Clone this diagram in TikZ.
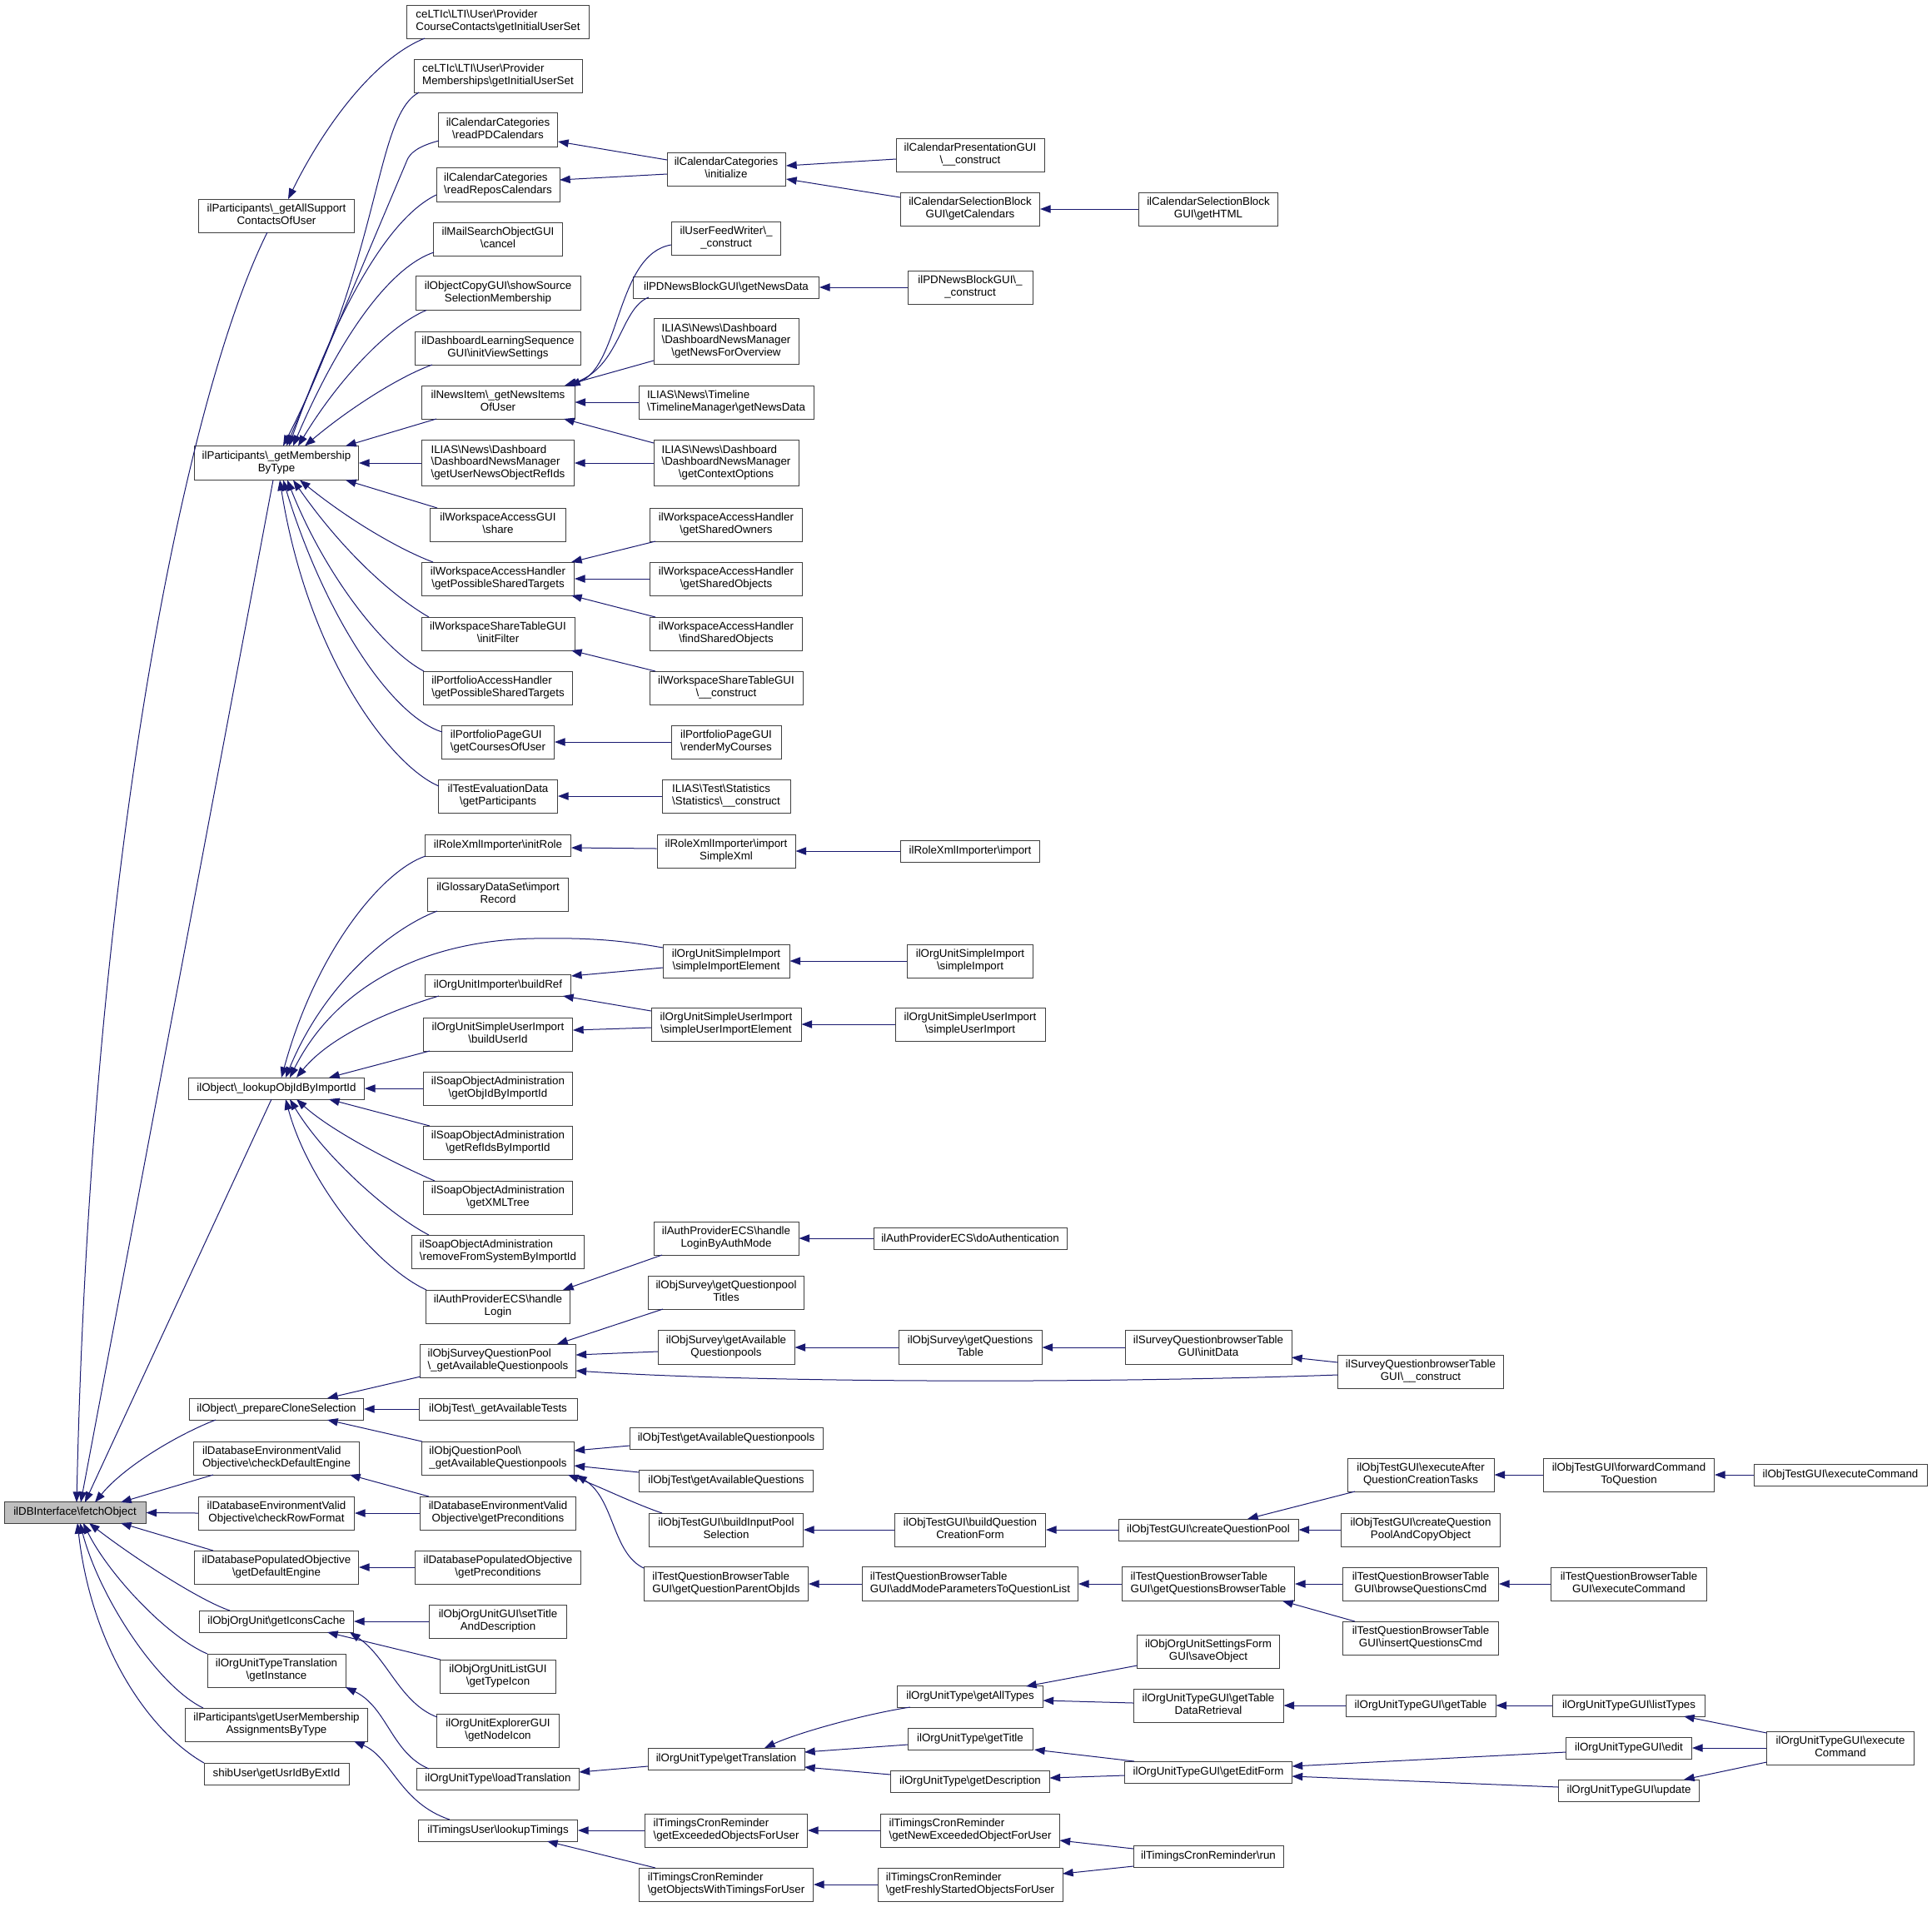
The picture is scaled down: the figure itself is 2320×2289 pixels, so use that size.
\documentclass[tikz,border=0pt]{standalone}
\usepackage{fontspec}
\setmainfont{Liberation Sans}
\usetikzlibrary{arrows.meta,calc}
\definecolor{navy}{RGB}{25,25,112}
\definecolor{focusgray}{RGB}{191,191,191}
\newcommand\bs{\textbackslash}
\newcommand\twol[2]{\begin{tabular}{@{}l@{}}#1\\\multicolumn{1}{@{}c@{}}{#2}\end{tabular}}
\newcommand\threel[3]{\begin{tabular}{@{}l@{}}#1\\#2\\\multicolumn{1}{@{}c@{}}{#3}\end{tabular}}
\newcommand\nodefont{\fontsize{10pt}{10.9pt}\selectfont}
\begin{document}
\begin{tikzpicture}[x=0.75pt,y=-0.75pt,
  box/.style={draw=black!75, line width=0.75pt, fill=white, inner sep=0pt, font=\nodefont},
  nd/.style 2 args={box, minimum width=#1*0.75pt, minimum height=#2*0.75pt},
  edge/.style={draw=navy, line width=0.75pt, -{Triangle[length=9.5pt,width=7pt]}}]
\fill[white] (0,0) rectangle (2320,2289);

% ---------- column 1
\node[nd={170}{26}, fill=focusgray] (F) at (90,1816.5) {ilDBInterface\bs fetchObject};

% ---------- column 2
\node[nd={187}{40}] (PA) at (332,259) {\twol{ilParticipants\bs\_getAllSupport}{ContactsOfUser}};
\node[nd={197}{41}] (PM) at (332,556) {\twol{ilParticipants\bs\_getMembership}{ByType}};
\node[nd={211}{26}] (LO) at (332,1307) {ilObject\bs\_lookupObjIdByImportId};
\node[nd={209}{26}] (PC) at (332,1692) {ilObject\bs\_prepareCloneSelection};
\node[nd={199}{40}] (CDE) at (332,1751) {\twol{ilDatabaseEnvironmentValid}{Objective\bs checkDefaultEngine}};
\node[nd={187}{40}] (CRF) at (332,1817) {\twol{ilDatabaseEnvironmentValid}{Objective\bs checkRowFormat}};
\node[nd={197}{40}] (PDE) at (332,1882) {\twol{ilDatabasePopulatedObjective}{\bs getDefaultEngine}};
\node[nd={185}{26}] (IC) at (332,1947) {ilObjOrgUnit\bs getIconsCache};
\node[nd={166}{40}] (GI) at (332,2006) {\twol{ilOrgUnitTypeTranslation}{\bs getInstance}};
\node[nd={219}{40}] (UMA) at (332,2071) {\twol{ilParticipants\bs getUserMembership}{AssignmentsByType}};
\node[nd={174}{26}] (SH) at (332,2130) {shibUser\bs getUsrIdByExtId};

% ---------- column 3
\node[nd={219}{40}] (CC) at (598,26) {\twol{ceLTIc\bs LTI\bs User\bs Provider}{CourseContacts\bs getInitialUserSet}};
\node[nd={202}{40}] (MB) at (598,91) {\twol{ceLTIc\bs LTI\bs User\bs Provider}{Memberships\bs getInitialUserSet}};
\node[nd={143}{41}] (RPD) at (598,156) {\twol{ilCalendarCategories}{\bs readPDCalendars}};
\node[nd={148}{41}] (RRC) at (598,222) {\twol{ilCalendarCategories}{\bs readReposCalendars}};
\node[nd={155}{40}] (MS) at (598,287) {\twol{ilMailSearchObjectGUI}{\bs cancel}};
\node[nd={198}{41}] (OCG) at (598,352) {\twol{ilObjectCopyGUI\bs showSource}{SelectionMembership}};
\node[nd={199}{40}] (DLS) at (598,418) {\twol{ilDashboardLearningSequence}{GUI\bs initViewSettings}};
\node[nd={184}{40}] (NI) at (598,483) {\twol{ilNewsItem\bs\_getNewsItems}{OfUser}};
\node[nd={183}{55}] (UNR) at (598,556) {\threel{ILIAS\bs News\bs Dashboard}{\bs DashboardNewsManager}{\bs getUserNewsObjectRefIds}};
\node[nd={163}{40}] (WAS) at (598,630) {\twol{ilWorkspaceAccessGUI}{\bs share}};
\node[nd={183}{40}] (PST) at (598,695) {\twol{ilWorkspaceAccessHandler}{\bs getPossibleSharedTargets}};
\node[nd={184}{40}] (IF) at (598,761) {\twol{ilWorkspaceShareTableGUI}{\bs initFilter}};
\node[nd={179}{40}] (PAH) at (598,826) {\twol{ilPortfolioAccessHandler}{\bs getPossibleSharedTargets}};
\node[nd={135}{40}] (GCU) at (598,891) {\twol{ilPortfolioPageGUI}{\bs getCoursesOfUser}};
\node[nd={143}{40}] (GP) at (598,956) {\twol{ilTestEvaluationData}{\bs getParticipants}};
\node[nd={175}{26}] (IR) at (598,1015) {ilRoleXmlImporter\bs initRole};
\node[nd={169}{40}] (GDS) at (598,1074) {\twol{ilGlossaryDataSet\bs import}{Record}};
\node[nd={175}{26}] (BR) at (598,1183) {ilOrgUnitImporter\bs buildRef};
\node[nd={179}{40}] (BUI) at (598,1242) {\twol{ilOrgUnitSimpleUserImport}{\bs buildUserId}};
\node[nd={179}{40}] (SO1) at (598,1307) {\twol{ilSoapObjectAdministration}{\bs getObjIdByImportId}};
\node[nd={179}{40}] (SO2) at (598,1372) {\twol{ilSoapObjectAdministration}{\bs getRefIdsByImportId}};
\node[nd={179}{40}] (SO3) at (598,1438) {\twol{ilSoapObjectAdministration}{\bs getXMLTree}};
\node[nd={207}{40}] (SO4) at (598,1503) {\twol{ilSoapObjectAdministration}{\bs removeFromSystemByImportId}};
\node[nd={173}{40}] (HL) at (598,1569) {\twol{ilAuthProviderECS\bs handle}{Login}};
\node[nd={187}{40}] (SQP) at (598,1634) {\twol{ilObjSurveyQuestionPool}{\bs\_getAvailableQuestionpools}};
\node[nd={190}{26}] (GAT) at (598,1692) {ilObjTest\bs\_getAvailableTests};
\node[nd={183}{40}] (QP) at (598,1751) {\twol{ilObjQuestionPool\bs}{\_getAvailableQuestionpools}};
\node[nd={187}{40}] (DEP) at (598,1817) {\twol{ilDatabaseEnvironmentValid}{Objective\bs getPreconditions}};
\node[nd={199}{40}] (DPP) at (598,1882) {\twol{ilDatabasePopulatedObjective}{\bs getPreconditions}};
\node[nd={165}{40}] (STD) at (598,1947) {\twol{ilObjOrgUnitGUI\bs setTitle}{AndDescription}};
\node[nd={139}{40}] (GTI) at (598,2013) {\twol{ilObjOrgUnitListGUI}{\bs getTypeIcon}};
\node[nd={147}{40}] (GNI) at (598,2078) {\twol{ilOrgUnitExplorerGUI}{\bs getNodeIcon}};
\node[nd={195}{26}] (LT) at (598,2136) {ilOrgUnitType\bs loadTranslation};
\node[nd={191}{26}] (LUT) at (598,2198) {ilTimingsUser\bs lookupTimings};

% ---------- column 4
\node[nd={142}{40}] (INI) at (872,203) {\twol{ilCalendarCategories}{\bs initialize}};
\node[nd={131}{40}] (UFW) at (872,286) {\twol{ilUserFeedWriter\bs\_}{\_construct}};
\node[nd={223}{26}] (PNB) at (872,345) {ilPDNewsBlockGUI\bs getNewsData};
\node[nd={174}{55}] (NFO) at (872,410) {\threel{ILIAS\bs News\bs Dashboard}{\bs DashboardNewsManager}{\bs getNewsForOverview}};
\node[nd={210}{40}] (TLM) at (872,483) {\twol{ILIAS\bs News\bs Timeline}{\bs TimelineManager\bs getNewsData}};
\node[nd={174}{55}] (GCO) at (872,556) {\threel{ILIAS\bs News\bs Dashboard}{\bs DashboardNewsManager}{\bs getContextOptions}};
\node[nd={183}{40}] (GSO) at (872,630) {\twol{ilWorkspaceAccessHandler}{\bs getSharedOwners}};
\node[nd={183}{40}] (GSB) at (872,695) {\twol{ilWorkspaceAccessHandler}{\bs getSharedObjects}};
\node[nd={183}{40}] (FSO) at (872,761) {\twol{ilWorkspaceAccessHandler}{\bs findSharedObjects}};
\node[nd={184}{40}] (WSC) at (872,826) {\twol{ilWorkspaceShareTableGUI}{\bs\_\_construct}};
\node[nd={132}{40}] (RMC) at (872,891) {\twol{ilPortfolioPageGUI}{\bs renderMyCourses}};
\node[nd={154}{40}] (STA) at (872,956) {\twol{ILIAS\bs Test\bs Statistics}{\bs Statistics\bs\_\_construct}};
\node[nd={166}{40}] (ISX) at (872,1022) {\twol{ilRoleXmlImporter\bs import}{SimpleXml}};
\node[nd={152}{40}] (SIE) at (872,1154) {\twol{ilOrgUnitSimpleImport}{\bs simpleImportElement}};
\node[nd={180}{40}] (SUIE) at (872,1230) {\twol{ilOrgUnitSimpleUserImport}{\bs simpleUserImportElement}};
\node[nd={174}{40}] (HLA) at (872,1487) {\twol{ilAuthProviderECS\bs handle}{LoginByAuthMode}};
\node[nd={187}{40}] (QPT) at (872,1552) {\twol{ilObjSurvey\bs getQuestionpool}{Titles}};
\node[nd={164}{41}] (SAQ) at (872,1618) {\twol{ilObjSurvey\bs getAvailable}{Questionpools}};
\node[nd={232}{26}] (TAQP) at (872,1727) {ilObjTest\bs getAvailableQuestionpools};
\node[nd={209}{26}] (TAQ) at (872,1778) {ilObjTest\bs getAvailableQuestions};
\node[nd={185}{40}] (BIPS) at (872,1837) {\twol{ilObjTestGUI\bs buildInputPool}{Selection}};
\node[nd={197}{41}] (QPO) at (872,1902) {\twol{ilTestQuestionBrowserTable}{GUI\bs getQuestionParentObjIds}};
\node[nd={188}{26}] (GTR) at (872,2112) {ilOrgUnitType\bs getTranslation};
\node[nd={195}{40}] (GEO) at (872,2198) {\twol{ilTimingsCronReminder}{\bs getExceededObjectsForUser}};
\node[nd={209}{40}] (OWT) at (872,2263) {\twol{ilTimingsCronReminder}{\bs getObjectsWithTimingsForUser}};

% ---------- column 5
\node[nd={178}{40}] (CPG) at (1165,186) {\twol{ilCalendarPresentationGUI}{\bs\_\_construct}};
\node[nd={167}{40}] (GCAL) at (1165,251) {\twol{ilCalendarSelectionBlock}{GUI\bs getCalendars}};
\node[nd={150}{40}] (PNC) at (1165,345) {\twol{ilPDNewsBlockGUI\bs\_}{\_construct}};
\node[nd={167}{26}] (RXI) at (1165,1022) {ilRoleXmlImporter\bs import};
\node[nd={151}{40}] (SI) at (1165,1154) {\twol{ilOrgUnitSimpleImport}{\bs simpleImport}};
\node[nd={180}{40}] (SUI) at (1165,1230) {\twol{ilOrgUnitSimpleUserImport}{\bs simpleUserImport}};
\node[nd={232}{26}] (DA) at (1165,1487) {ilAuthProviderECS\bs doAuthentication};
\node[nd={172}{41}] (GQT) at (1165,1618) {\twol{ilObjSurvey\bs getQuestions}{Table}};
\node[nd={181}{40}] (BQCF) at (1165,1837) {\twol{ilObjTestGUI\bs buildQuestion}{CreationForm}};
\node[nd={259}{41}] (AMP) at (1165,1902) {\twol{ilTestQuestionBrowserTable}{GUI\bs addModeParametersToQuestionList}};
\node[nd={175}{26}] (GAll) at (1165,2037) {ilOrgUnitType\bs getAllTypes};
\node[nd={150}{26}] (GTit) at (1165,2088) {ilOrgUnitType\bs getTitle};
\node[nd={191}{26}] (GDesc) at (1165,2139) {ilOrgUnitType\bs getDescription};
\node[nd={215}{40}] (GNE) at (1165,2198) {\twol{ilTimingsCronReminder}{\bs getNewExceededObjectForUser}};
\node[nd={222}{40}] (GFS) at (1165,2263) {\twol{ilTimingsCronReminder}{\bs getFreshlyStartedObjectsForUser}};

% ---------- column 6
\node[nd={167}{40}] (GHTML) at (1451,251) {\twol{ilCalendarSelectionBlock}{GUI\bs getHTML}};
\node[nd={200}{41}] (ID) at (1451,1618) {\twol{ilSurveyQuestionbrowserTable}{GUI\bs initData}};
\node[nd={216}{26}] (CQP) at (1451,1837) {ilObjTestGUI\bs createQuestionPool};
\node[nd={207}{41}] (GQBT) at (1451,1902) {\twol{ilTestQuestionBrowserTable}{GUI\bs getQuestionsBrowserTable}};
\node[nd={171}{40}] (SOB) at (1451,1983) {\twol{ilObjOrgUnitSettingsForm}{GUI\bs saveObject}};
\node[nd={180}{40}] (TDR) at (1451,2048) {\twol{ilOrgUnitTypeGUI\bs getTable}{DataRetrieval}};
\node[nd={201}{26}] (GEF) at (1451,2128) {ilOrgUnitTypeGUI\bs getEditForm};
\node[nd={180}{26}] (RUN) at (1451,2229) {ilTimingsCronReminder\bs run};

% ---------- column 7
\node[nd={199}{40}] (SQC) at (1706,1647) {\twol{ilSurveyQuestionbrowserTable}{GUI\bs\_\_construct}};
\node[nd={176}{40}] (EAQ) at (1706,1771) {\twol{ilObjTestGUI\bs executeAfter}{QuestionCreationTasks}};
\node[nd={191}{40}] (CQPC) at (1706,1837) {\twol{ilObjTestGUI\bs createQuestion}{PoolAndCopyObject}};
\node[nd={187}{40}] (BQC) at (1706,1902) {\twol{ilTestQuestionBrowserTable}{GUI\bs browseQuestionsCmd}};
\node[nd={187}{40}] (IQC) at (1706,1967) {\twol{ilTestQuestionBrowserTable}{GUI\bs insertQuestionsCmd}};
\node[nd={180}{26}] (GT) at (1706,2048) {ilOrgUnitTypeGUI\bs getTable};

% ---------- column 8
\node[nd={205}{40}] (FCQ) at (1956,1771) {\twol{ilObjTestGUI\bs forwardCommand}{ToQuestion}};
\node[nd={187}{40}] (TEC) at (1956,1902) {\twol{ilTestQuestionBrowserTable}{GUI\bs executeCommand}};
\node[nd={183}{26}] (LTY) at (1956,2048) {ilOrgUnitTypeGUI\bs listTypes};
\node[nd={151}{26}] (ED) at (1956,2099) {ilOrgUnitTypeGUI\bs edit};
\node[nd={169}{26}] (UP) at (1956,2150) {ilOrgUnitTypeGUI\bs update};

% ---------- column 9
\node[nd={208}{26}] (OTEC) at (2210,1771) {ilObjTestGUI\bs executeCommand};
\node[nd={177}{40}] (OUEC) at (2210,2099) {\twol{ilOrgUnitTypeGUI\bs execute}{Command}};

% ================= edges into fetchObject
\draw[edge] ($(PA)+(-11,20)$) .. controls (230,460) and (110,1000) .. ($(F)+(2,-12.5)$);
\draw[edge] ($(PM)+(-4,20.5)$) -- ($(F)+(7,-12.5)$);
\draw[edge] ($(LO)+(-6,13)$) -- ($(F)+(12,-12.5)$);
\draw[edge] ($(PC)+(-73,13)$) .. controls (215,1722) and (150,1760) .. ($(F)+(24,-12.5)$);
\draw[edge] ($(CDE)+(-76,20)$) -- ($(F)+(55,-12.5)$);
\draw[edge] (CRF.west) -- (F.east);
\draw[edge] ($(PDE)+(-76,-20)$) -- ($(F)+(55,12.5)$);
\draw[edge] ($(IC)+(-56,-13)$) .. controls (240,1922) and (160,1870) .. ($(F)+(17,12.5)$);
\draw[edge] ($(GI)+(-83,-20)$) .. controls (200,1965) and (130,1890) .. ($(F)+(10,12.5)$);
\draw[edge] ($(UMA)+(-88,-20)$) .. controls (190,2025) and (120,1920) .. ($(F)+(6,12.5)$);
\draw[edge] ($(SH)+(-87,-13)$) .. controls (180,2080) and (110,1980) .. ($(F)+(3,12.5)$);

% ================= PA
\draw[edge] ($(CC)+(-88,20)$) .. controls (450,70) and (390,150) .. ($(PA)+(14,-20)$);

% ================= PM
\draw[edge] ($(MB)+(-95,20)$) .. controls (450,140) and (460,300) .. ($(PM)+(8,-20.5)$);
\draw[edge] ($(RPD)+(-71,13)$) .. controls (500,176) and (492,185) .. (489,192) -- ($(PM)+(12,-20.5)$);
\draw[edge] ($(RRC)+(-74,12)$) .. controls (480,255) and (420,330) .. ($(PM)+(15,-20.5)$);
\draw[edge] ($(MS)+(-77,16)$) .. controls (470,320) and (410,400) .. ($(PM)+(20,-20.5)$);
\draw[edge] ($(OCG)+(-86,20.5)$) .. controls (470,390) and (410,450) .. ($(PM)+(26,-20.5)$);
\draw[edge] ($(DLS)+(-79,20)$) .. controls (480,452) and (420,490) .. ($(PM)+(34,-20.5)$);
\draw[edge] ($(NI)+(-74,20)$) -- ($(PM)+(83,-20.5)$);
\draw[edge] (UNR.west) -- (PM.east);
\draw[edge] ($(WAS)+(-73,-20)$) -- ($(PM)+(83,20.5)$);
\draw[edge] ($(PST)+(-78,-20)$) .. controls (480,660) and (420,625) .. ($(PM)+(28,20.5)$);
\draw[edge] ($(IF)+(-83,-20)$) .. controls (470,715) and (410,660) .. ($(PM)+(20,20.5)$);
\draw[edge] ($(PAH)+(-89,-20)$) .. controls (460,780) and (390,690) .. ($(PM)+(13,20.5)$);
\draw[edge] ($(GCU)+(-67,-12)$) .. controls (470,860) and (390,740) .. ($(PM)+(8,20.5)$);
\draw[edge] ($(GP)+(-71,-12)$) .. controls (470,920) and (370,790) .. ($(PM)+(4,20.5)$);

% ================= calendar
\draw[edge] ($(INI)+(-71,-11)$) -- ($(RPD)+(72,14)$);
\draw[edge] ($(INI)+(-71,6)$) -- ($(RRC)+(74,-6)$);
\draw[edge] ($(CPG)+(-89,5)$) -- ($(INI)+(72,-4)$);
\draw[edge] ($(GCAL)+(-84,-14)$) -- ($(INI)+(72,12)$);
\draw[edge] (GHTML.west) -- (GCAL.east);

% ================= news
\draw[edge] ($(UFW)+(-66,8)$) .. controls (740,305) and (745,440) .. ($(NI)+(86,-20)$);
\draw[edge] ($(PNB)+(-93,12)$) .. controls (745,370) and (745,440) .. ($(NI)+(82,-20)$);
\draw[edge] ($(NFO)+(-87,23)$) -- ($(NI)+(80,-20)$);
\draw[edge] (TLM.west) -- (NI.east);
\draw[edge] ($(GCO)+(-87,-24)$) -- ($(NI)+(79,20)$);
\draw[edge] (GCO.west) -- (UNR.east);
\draw[edge] (PNC.west) -- (PNB.east);

% ================= workspace / portfolio / test
\draw[edge] ($(GSO)+(-85,20)$) -- ($(PST)+(88,-20)$);
\draw[edge] (GSB.west) -- (PST.east);
\draw[edge] ($(FSO)+(-85,-20)$) -- ($(PST)+(88,20)$);
\draw[edge] ($(WSC)+(-85,-20)$) -- ($(IF)+(88,20)$);
\draw[edge] (RMC.west) -- (GCU.east);
\draw[edge] (STA.west) -- (GP.east);

% ================= LO
\draw[edge] ($(IR)+(-87,13)$) .. controls (460,1045) and (380,1140) .. ($(LO)+(6,-13)$);
\draw[edge] ($(GDS)+(-73,20)$) .. controls (470,1115) and (390,1180) .. ($(LO)+(11,-13)$);
\draw[edge] ($(SIE)+(-76,-16)$) .. controls (740,1128) and (700,1126) .. (640,1127) .. controls (500,1130) and (400,1190) .. ($(LO)+(16,-13)$);
\draw[edge] ($(BR)+(-71,13)$) .. controls (480,1210) and (400,1240) .. ($(LO)+(24,-13)$);
\draw[edge] ($(BUI)+(-82,20)$) -- ($(LO)+(63,-13)$);
\draw[edge] (SO1.west) -- (LO.east);
\draw[edge] ($(SO2)+(-82,-20)$) -- ($(LO)+(63,13)$);
\draw[edge] ($(SO3)+(-76,-20)$) .. controls (480,1400) and (400,1360) .. ($(LO)+(24,13)$);
\draw[edge] ($(SO4)+(-83,-20)$) .. controls (470,1460) and (390,1390) .. ($(LO)+(16,13)$);
\draw[edge] ($(HL)+(-86,-20)$) .. controls (450,1520) and (370,1420) .. ($(LO)+(11,13)$);

\draw[edge] ($(ISX.west)+(0,-3)$) -- ($(IR.east)+(0,3)$);
\draw[edge] (RXI.west) -- (ISX.east);
\draw[edge] ($(SIE)+(-76,8)$) -- ($(BR)+(88,-11)$);
\draw[edge] ($(SUIE)+(-90,-16)$) -- ($(BR)+(78,13)$);
\draw[edge] ($(SUIE)+(-90,4)$) -- ($(BUI)+(90,-5)$);
\draw[edge] (SI.west) -- (SIE.east);
\draw[edge] (SUI.west) -- (SUIE.east);
\draw[edge] ($(HLA)+(-77,20)$) -- ($(HL)+(78,-20)$);
\draw[edge] (DA.west) -- (HLA.east);

% ================= PC / survey / question pool
\draw[edge] ($(SQP)+(-93,19)$) -- ($(PC)+(61,-13)$);
\draw[edge] (GAT.west) -- (PC.east);
\draw[edge] ($(QP)+(-91,-20)$) -- ($(PC)+(61,13)$);
\draw[edge] ($(QPT)+(-76,20)$) -- ($(SQP)+(71,-20)$);
\draw[edge] ($(SAQ)+(-82,5)$) -- ($(SQP)+(93.5,-7)$);
\draw[edge] ($(SQC)+(-99.5,4)$) .. controls (1300,1662) and (900,1660) .. ($(SQP)+(93.5,12)$);
\draw[edge] ($(SQC)+(-99.5,-11)$) -- ($(ID)+(100,12)$);
\draw[edge] (GQT.west) -- (SAQ.east);
\draw[edge] (ID.west) -- (GQT.east);

\draw[edge] ($(TAQP)+(-116,9)$) -- ($(QP)+(91.5,-9)$);
\draw[edge] ($(TAQ)+(-104.5,-10)$) -- ($(QP)+(91.5,9)$);
\draw[edge] ($(BIPS)+(-77,-20)$) .. controls (760,1805) and (720,1785) .. ($(QP)+(84,20)$);
\draw[edge] ($(QPO)+(-99,-19)$) .. controls (735,1865) and (738,1800) .. ($(QP)+(94,20)$);

\draw[edge] (BQCF.west) -- (BIPS.east);
\draw[edge] (CQP.west) -- (BQCF.east);
\draw[edge] (CQPC.west) -- (CQP.east);
\draw[edge] ($(EAQ)+(-79,20)$) -- ($(CQP)+(47,-13)$);
\draw[edge] (FCQ.west) -- (EAQ.east);
\draw[edge] (OTEC.west) -- (FCQ.east);

\draw[edge] (AMP.west) -- (QPO.east);
\draw[edge] (GQBT.west) -- (AMP.east);
\draw[edge] (BQC.west) -- (GQBT.east);
\draw[edge] ($(IQC)+(-79,-20)$) -- ($(GQBT)+(89,20.5)$);
\draw[edge] (TEC.west) -- (BQC.east);

% ================= database objectives
\draw[edge] ($(DEP)+(-83,-20)$) -- ($(CDE)+(88,20)$);
\draw[edge] (DEP.west) -- (CRF.east);
\draw[edge] (DPP.west) -- (PDE.east);

% ================= org unit
\draw[edge] (STD.west) -- (IC.east);
\draw[edge] ($(GTI)+(-69,-20)$) -- ($(IC)+(61,13)$);
\draw[edge] ($(GNI)+(-73,-16)$) .. controls (480,2045) and (465,1990) .. ($(IC)+(88,13)$);
\draw[edge] ($(LT)+(-83,-12)$) .. controls (470,2105) and (465,2050) .. ($(GI)+(83,20)$);
\draw[edge] ($(GTR)+(-94,9)$) -- ($(LT)+(97.5,-8)$);
\draw[edge] ($(GAll)+(-72,13)$) .. controls (1040,2058) and (960,2080) .. ($(GTR)+(46,-13)$);
\draw[edge] ($(GTit)+(-75,7)$) -- ($(GTR)+(94,-8)$);
\draw[edge] ($(GDesc)+(-95.5,-8)$) -- ($(GTR)+(94,10)$);
\draw[edge] ($(SOB)+(-85.5,17)$) -- ($(GAll)+(67,-12)$);
\draw[edge] ($(TDR)+(-90,-3)$) -- ($(GAll)+(87.5,5)$);
\draw[edge] (GT.west) -- (TDR.east);
\draw[edge] (LTY.west) -- (GT.east);
\draw[edge] ($(OUEC)+(-88.5,-18)$) -- ($(LTY)+(66,13)$);
\draw[edge] (OUEC.west) -- (ED.east);
\draw[edge] ($(OUEC)+(-88.5,17)$) -- ($(UP)+(66,-13)$);
\draw[edge] ($(ED)+(-75.5,5)$) -- ($(GEF)+(100.5,-7)$);
\draw[edge] ($(UP)+(-84.5,-4)$) -- ($(GEF)+(100.5,5)$);
\draw[edge] ($(GEF)+(-89,-13)$) -- ($(GTit)+(77,13)$);
\draw[edge] ($(GEF)+(-100.5,4)$) -- ($(GDesc)+(95.5,-4)$);

% ================= timings
\draw[edge] ($(LUT)+(-58,-13)$) .. controls (480,2165) and (470,2110) .. ($(UMA)+(93,20)$);
\draw[edge] (GEO.west) -- (LUT.east);
\draw[edge] ($(OWT)+(-85,-20)$) -- ($(LUT)+(59,13)$);
\draw[edge] (GNE.west) -- (GEO.east);
\draw[edge] (GFS.west) -- (OWT.east);
\draw[edge] ($(RUN)+(-90,-9)$) -- ($(GNE)+(107.5,12)$);
\draw[edge] ($(RUN)+(-90,12)$) -- ($(GFS)+(111,-13)$);
\end{tikzpicture}
\end{document}
